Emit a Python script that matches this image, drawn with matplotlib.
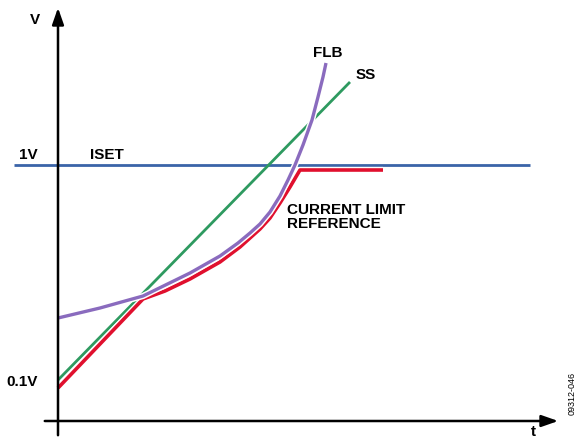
import matplotlib.pyplot as plt
import matplotlib.patheffects as pe

plt.rcParams["font.family"] = ["Liberation Sans", "DejaVu Sans"]

# values (t and V in drawing units, origin at the axes corner)
iset_t = [-44, 472]
iset_v = [256, 256]

ss_t = [0, 292]
ss_v = [41, 339]

flb_t = [0, 42, 85, 132, 162, 180, 192, 202, 212, 222, 230, 237, 245, 254, 260, 265, 268]
flb_v = [103, 113, 125, 148, 165, 178, 188, 197, 209, 225, 241, 256, 276, 301, 324, 344, 358]

clr_t = [0, 85, 107, 132, 162, 182, 192, 202, 212, 222, 232, 242, 325]
clr_v = [33, 122, 130, 142, 159, 174, 183, 192, 203, 218, 234, 251, 251]

fig = plt.figure(figsize=(5.8, 4.4), dpi=100)
ax = fig.add_axes([0, 0, 1, 1])
ax.set_xlim(-58, 522)
ax.set_ylim(-19, 421)
ax.axis("off")

# axes with arrows
ax.annotate("", xy=(0, 416), xytext=(0, -17),
            arrowprops=dict(arrowstyle="-|>,head_length=1.0,head_width=0.35", color="black", lw=1.8))
ax.annotate("", xy=(503, 0), xytext=(-16, 0),
            arrowprops=dict(arrowstyle="-|>,head_length=1.0,head_width=0.35", color="black", lw=1.8))

ax.plot(iset_t, iset_v, color="#3A64A8", lw=2, solid_capstyle="butt")
ax.plot(ss_t, ss_v, color="#2E9A60", lw=2, solid_capstyle="butt")
white = [pe.Stroke(linewidth=4.5, foreground="white"), pe.Normal()]
ax.plot(clr_t, clr_v, color="#E0102E", lw=2.6, solid_capstyle="butt",
        solid_joinstyle="round", path_effects=white)
ax.plot(flb_t, flb_v, color="#8A6BBE", lw=2.4, solid_capstyle="butt",
        solid_joinstyle="round", path_effects=white)

fs = 11
ax.text(-23, 401, "V", fontsize=fs, fontweight="bold", ha="center", va="center")
ax.text(-30, 266, "1V", fontsize=fs, fontweight="bold", ha="center", va="center")
ax.text(49, 266, "ISET", fontsize=fs, fontweight="bold", ha="center", va="center")
ax.text(-36, 39, "0.1V", fontsize=fs, fontweight="bold", ha="center", va="center")
ax.text(475, -11, "t", fontsize=fs, fontweight="bold", ha="center", va="center")
ax.text(270, 368, "FLB", fontsize=fs, fontweight="bold", ha="center", va="center")
ax.text(308, 346, "SS", fontsize=fs, fontweight="bold", ha="center", va="center")
ax.text(229, 204, "CURRENT LIMIT\nREFERENCE", fontsize=fs, fontweight="bold",
        ha="left", va="center", linespacing=1.0)
ax.text(514, 28, "09312-046", fontsize=6.5, rotation=90, ha="center", va="center")

fig.savefig("out.png", dpi=100)
